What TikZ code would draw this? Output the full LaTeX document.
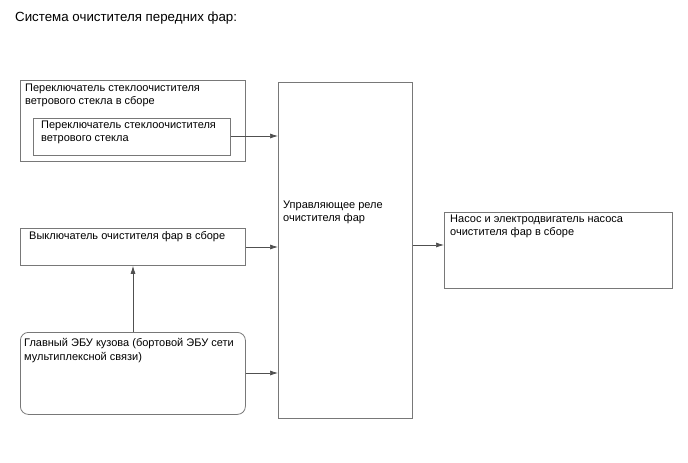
\documentclass[tikz,border=0pt]{standalone}
\usepackage{fontspec}
\setmainfont{Liberation Sans}
\usetikzlibrary{arrows.meta}
\definecolor{boxline}{RGB}{120,120,120}
\definecolor{arrline}{RGB}{80,80,80}
\tikzset{
  box/.style={draw=boxline, line width=0.8pt, inner sep=0pt, anchor=north west},
  txt/.style={anchor=north west, inner sep=0pt, align=left, font=\fontsize{11}{12.5}\selectfont},
  conn/.style={draw=arrline, line width=0.7pt, -{Latex[length=8pt,width=5pt]}}
}
\begin{document}
\begin{tikzpicture}[x=1pt,y=-1pt]
\useasboundingbox (0,0) rectangle (688,463);
\node[anchor=west, inner sep=0pt, font=\fontsize{13.3}{15}\selectfont] (title) at (15,18) {Система очистителя передних фар:};

\node[box, minimum width=225pt, minimum height=81pt] (wsa) at (20,80) {};
\node[txt] (wsat) at (25,84) {Переключатель стеклоочистителя\\ветрового стекла в сборе};
\node[box, minimum width=197pt, minimum height=37pt] (ws) at (33,118) {};
\node[txt] (wst) at (41,121) {Переключатель стеклоочистителя\\ветрового стекла};

\node[box, minimum width=225pt, minimum height=37pt] (hs) at (20,228) {};
\node[txt] (hst) at (29,231) {Выключатель очистителя фар в сборе};

\node[box, rounded corners=8pt, minimum width=225pt, minimum height=82pt] (ecu) at (20,332) {};
\node[txt, font=\fontsize{11}{14}\selectfont] (ecut) at (24,338) {Главный ЭБУ кузова (бортовой ЭБУ сети\\мультиплексной связи)};

\node[box, minimum width=134pt, minimum height=336pt] (relay) at (278,82) {};
\node[txt] (relayt) at (283,201) {Управляющее реле\\очистителя фар};

\node[box, minimum width=228pt, minimum height=76pt] (pump) at (444,212) {};
\node[txt] (pumpt) at (450,215) {Насос и электродвигатель насоса\\очистителя фар в сборе};

\draw[conn] (ws.east |- 0,136) -- (relay.west |- 0,136);
\draw[conn] (hs.east |- 0,247) -- (relay.west |- 0,247);
\draw[conn] (ecu.east |- 0,373) -- (relay.west |- 0,373);
\draw[conn] (ecu.north -| 133,0) -- (hs.south -| 133,0);
\draw[conn] (relay.east |- 0,245) -- (pump.west |- 0,245);
\end{tikzpicture}
\end{document}
